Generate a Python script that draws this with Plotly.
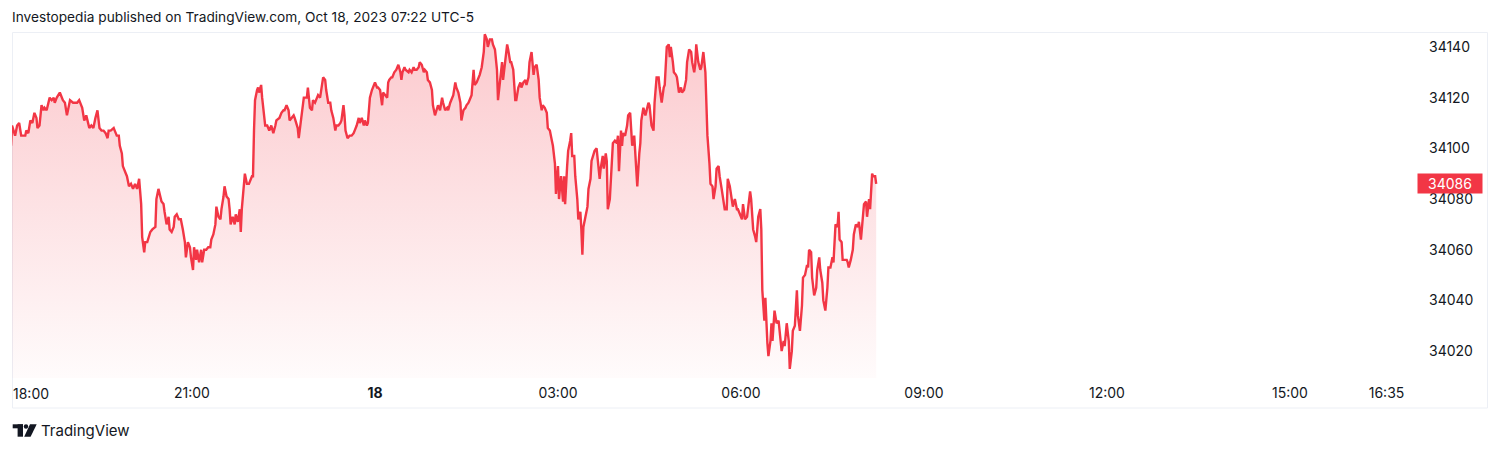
import pandas as pd
import plotly.graph_objects as go

# ---------------- data (minutes after 18:00 Oct 17, 2023 ; price) ----------------
evening_minutes = [2, 3, 6, 8, 10, 12, 16, 17, 19, 21,
                   23, 25, 27, 28, 30, 32, 34, 35, 37, 40,
                   42, 44, 45, 47, 50, 53, 55, 57, 60, 63,
                   67, 69, 72, 74, 76, 77, 79, 81, 83, 85,
                   87, 89, 91, 93, 95, 97, 98, 100, 103, 104,
                   106, 108, 109, 111, 112, 115, 116, 118, 120, 122,
                   124, 126, 128, 130, 131, 133, 134, 136, 139, 141,
                   144, 145, 147]
evening_prices = [34101, 34109, 34105, 34109, 34110, 34105, 34105, 34107, 34106, 34111,
                  34110, 34114, 34112, 34108, 34109, 34117, 34115, 34116, 34115, 34120,
                  34119, 34120, 34118, 34120, 34122, 34119, 34118, 34113, 34119, 34118,
                  34118, 34119, 34116, 34111, 34113, 34111, 34108, 34109, 34108, 34112,
                  34115, 34108, 34107, 34107, 34106, 34104, 34107, 34107, 34108, 34107,
                  34105, 34105, 34101, 34098, 34093, 34090, 34089, 34085, 34086, 34084,
                  34086, 34084, 34088, 34078, 34065, 34059, 34063, 34063, 34067, 34068,
                  34069, 34080, 34084]

night_minutes = [150, 152, 153, 155, 157, 158, 160, 162, 163, 165,
                 167, 169, 171, 173, 174, 176, 178, 179, 181, 182,
                 184, 185, 187, 189, 190, 192, 194, 196, 198, 199,
                 201, 203, 204, 206, 208, 209, 211, 212, 214, 216,
                 217, 218, 220, 222, 223, 225, 227, 228, 229, 231,
                 232, 234, 236, 239, 240, 241, 242, 244, 245, 246,
                 248, 249, 251, 252, 254, 256, 258, 260, 262, 263,
                 266, 268, 270, 271, 273, 275, 276, 278, 280, 281,
                 284, 285, 287, 288, 290]
night_prices = [34079, 34078, 34075, 34070, 34073, 34068, 34067, 34069, 34073, 34074,
                34072, 34072, 34068, 34063, 34057, 34063, 34061, 34057, 34052, 34061,
                34056, 34060, 34055, 34060, 34055, 34060, 34060, 34061, 34061, 34064,
                34066, 34070, 34077, 34073, 34072, 34076, 34081, 34085, 34081, 34080,
                34076, 34070, 34073, 34070, 34074, 34071, 34076, 34067, 34076, 34087,
                34090, 34086, 34086, 34089, 34089, 34107, 34119, 34123, 34124, 34122,
                34125, 34120, 34112, 34109, 34109, 34107, 34109, 34106, 34109, 34111,
                34112, 34114, 34115, 34115, 34117, 34115, 34111, 34112, 34113, 34112,
                34108, 34104, 34111, 34115, 34120]

midnight_minutes = [293, 294, 296, 298, 299, 301, 303, 304, 306, 308,
                    309, 311, 312, 314, 316, 317, 319, 321, 322, 324,
                    326, 327, 329, 330, 331, 333, 335, 337, 339, 340,
                    342, 344, 345, 347, 349, 350, 352, 353, 355, 357,
                    358, 360, 362, 363, 365, 367, 368, 370, 372, 373,
                    374, 376, 377, 379, 381, 383, 385, 386, 387, 389,
                    390, 393, 394, 396, 398, 399, 401, 403, 404, 406,
                    408, 409, 411, 412, 414, 416, 417, 419, 421, 422,
                    424, 426, 427, 429, 431, 432]
midnight_prices = [34120, 34124, 34116, 34115, 34119, 34118, 34120, 34121, 34120, 34127,
                   34128, 34127, 34123, 34118, 34118, 34115, 34112, 34107, 34109, 34109,
                   34110, 34111, 34117, 34113, 34107, 34104, 34105, 34105, 34106, 34107,
                   34109, 34112, 34110, 34112, 34109, 34111, 34109, 34110, 34120, 34123,
                   34124, 34126, 34124, 34124, 34123, 34117, 34122, 34121, 34120, 34126,
                   34127, 34128, 34128, 34130, 34131, 34133, 34130, 34127, 34130, 34132,
                   34131, 34130, 34131, 34130, 34132, 34131, 34131, 34132, 34134, 34133,
                   34130, 34131, 34130, 34127, 34126, 34123, 34117, 34113, 34116, 34117,
                   34115, 34120, 34118, 34115, 34116, 34115]

early_minutes = [434, 435, 437, 439, 440, 442, 444, 445, 447, 449,
                 450, 452, 453, 455, 457, 458, 460, 462, 463, 465,
                 467, 468, 470, 471, 473, 475, 476, 478, 480, 481,
                 483, 485, 486, 488, 490, 491, 493, 494, 496, 498,
                 499, 501, 503, 504, 506, 508, 509, 511, 512, 514,
                 516, 517, 519, 521, 522, 524, 525, 527, 529, 530,
                 532, 534, 535, 537, 538, 540, 541, 543, 545, 546,
                 547, 549, 550, 552, 553, 554, 556, 557, 559, 560,
                 562, 563, 564, 565, 567, 569, 570, 572, 573, 575]
early_prices = [34118, 34119, 34121, 34126, 34124, 34122, 34118, 34111, 34115, 34116,
                34117, 34118, 34119, 34121, 34131, 34125, 34126, 34128, 34129, 34132,
                34138, 34145, 34143, 34140, 34143, 34143, 34141, 34139, 34131, 34119,
                34127, 34134, 34127, 34135, 34141, 34139, 34134, 34134, 34131, 34119,
                34119, 34124, 34126, 34124, 34126, 34127, 34125, 34128, 34134, 34138,
                34129, 34132, 34133, 34127, 34120, 34115, 34117, 34116, 34114, 34108,
                34107, 34103, 34101, 34094, 34082, 34093, 34080, 34089, 34079, 34089,
                34078, 34093, 34099, 34103, 34106, 34097, 34097, 34089, 34080, 34072,
                34075, 34068, 34058, 34069, 34073, 34077, 34084, 34088, 34095, 34098]

dawn_minutes = [576, 578, 580, 581, 582, 584, 585, 587, 588, 589,
                591, 593, 594, 596, 598, 599, 600, 602, 603, 604,
                606, 608, 609, 611, 612, 613, 615, 616, 618, 620,
                621, 622, 624, 626, 627, 629, 630, 632, 634, 635,
                637, 639, 640, 642, 644, 645, 647, 649, 650, 651,
                653, 654, 656, 657, 659, 661, 662, 664, 666, 667,
                669, 671, 672, 674, 675, 676, 678, 680, 681, 683,
                685, 686, 687, 689, 690, 692, 693, 695, 696, 698,
                699, 701, 703, 704, 706, 707, 709, 711, 712, 714,
                716, 717, 719]
dawn_prices = [34099, 34100, 34093, 34088, 34092, 34097, 34092, 34098, 34095, 34076,
               34080, 34092, 34102, 34103, 34102, 34105, 34091, 34107, 34101, 34106,
               34105, 34109, 34113, 34114, 34109, 34101, 34105, 34097, 34085, 34098,
               34102, 34111, 34116, 34113, 34115, 34118, 34117, 34109, 34107, 34118,
               34128, 34128, 34124, 34118, 34124, 34125, 34140, 34141, 34136, 34140,
               34134, 34130, 34129, 34128, 34122, 34124, 34122, 34123, 34127, 34134,
               34139, 34138, 34134, 34130, 34133, 34141, 34134, 34131, 34132, 34138,
               34130, 34115, 34105, 34094, 34086, 34085, 34080, 34085, 34092, 34093,
               34089, 34084, 34078, 34076, 34076, 34088, 34085, 34078, 34077, 34080,
               34076, 34076, 34074]

morning_minutes = [721, 722, 724, 726, 727, 729, 730, 732, 734, 735,
                   737, 739, 740, 741, 743, 744, 746, 747, 749, 750,
                   751, 752, 753, 755, 757, 758, 760, 762, 763, 765,
                   767, 768, 770, 771, 773, 775, 776, 778, 780, 781,
                   783, 785, 786, 787, 789, 790, 792, 794, 795, 797,
                   798, 800, 801, 803, 805, 806, 808, 810, 811, 813,
                   815, 816, 817, 819, 820, 822, 824, 825, 826, 828,
                   830, 831, 833, 835, 836, 838, 840, 841, 843, 844,
                   846, 847, 849, 850, 852, 853]
morning_prices = [34072, 34078, 34072, 34073, 34077, 34083, 34080, 34068, 34065, 34063,
                  34073, 34076, 34068, 34044, 34032, 34041, 34023, 34018, 34024, 34031,
                  34024, 34031, 34036, 34031, 34032, 34028, 34020, 34024, 34022, 34031,
                  34024, 34013, 34020, 34028, 34030, 34044, 34034, 34028, 34038, 34049,
                  34050, 34054, 34053, 34060, 34059, 34049, 34042, 34045, 34052, 34057,
                  34052, 34047, 34040, 34036, 34045, 34053, 34053, 34057, 34055, 34070,
                  34069, 34075, 34064, 34063, 34056, 34056, 34056, 34055, 34053, 34056,
                  34060, 34066, 34070, 34069, 34071, 34064, 34073, 34078, 34079, 34073,
                  34080, 34076, 34090, 34089, 34089, 34086]

last_price = 34086
price_ticks = [34020, 34040, 34060, 34080, 34100, 34120, 34140]
time_tick_labels = ["21:00", "<b>18</b>", "03:00", "06:00", "09:00", "12:00", "15:00", "16:35"]
time_tick_values = ["2023-10-17 21:00", "2023-10-18 00:00", "2023-10-18 03:00", "2023-10-18 06:00",
                    "2023-10-18 09:00", "2023-10-18 12:00", "2023-10-18 15:00", "2023-10-18 16:35"]

# ---------------- build series ----------------
minutes, prices = [], []
for m, p in [(evening_minutes, evening_prices), (night_minutes, night_prices),
             (midnight_minutes, midnight_prices), (early_minutes, early_prices),
             (dawn_minutes, dawn_prices), (morning_minutes, morning_prices)]:
    n = min(len(m), len(p))
    minutes += m[:n]
    prices += p[:n]

session_start = pd.Timestamp("2023-10-17 18:00")
times = [session_start + pd.Timedelta(minutes=m) for m in minutes]

# ---------------- geometry helpers (page pixel coords; page body has 8px margin) ----------------
OFF = 8
W, H = 1500 - OFF, 450 - OFF
PL, PR, PT, PB = 12, 1415, 33, 378


def fx(xp):
    return (xp - PL) / (PR - PL)


def fy(yp):
    return (PB - yp) / (PB - PT)


FONT = "Inter, Roboto, Arial, sans-serif"
TXT = "#131722"
RED = "#F23645"

y_lo, y_hi = 34009.4, 34145.5

fig = go.Figure()
fig.add_trace(go.Scatter(
    x=times, y=prices, mode="lines",
    line=dict(color=RED, width=2.4),
    fill="tozeroy",
    fillgradient=dict(type="vertical",
                      colorscale=[[0, "rgba(242,54,69,0.02)"], [1, "rgba(242,54,69,0.26)"]],
                      start=y_lo, stop=34140),
    hoverinfo="skip", showlegend=False,
))

x_lo = session_start + pd.Timedelta(minutes=2.95)
x_hi = session_start + pd.Timedelta(minutes=1383)

fig.update_layout(
    width=W, height=H,
    margin=dict(l=PL - OFF, r=W - (PR - OFF), t=PT - OFF, b=H - (PB - OFF)),
    paper_bgcolor="white", plot_bgcolor="white",
    font=dict(family=FONT, size=14, color=TXT),
    showlegend=False,
    xaxis=dict(range=[x_lo, x_hi], tickvals=time_tick_values, ticktext=time_tick_labels,
               showgrid=False, zeroline=False, showline=False, ticks="",
               ticklabelstandoff=5, tickfont=dict(size=14, color=TXT)),
    yaxis=dict(range=[y_lo, y_hi], side="right", tickvals=price_ticks,
               ticktext=[str(v) for v in price_ticks],
               showgrid=False, zeroline=False, showline=False, ticks="",
               ticklabelstandoff=13, tickfont=dict(size=14, color=TXT)),
)

annotations = [
    dict(text="Investopedia published on TradingView.com, Oct 18, 2023 07:22 UTC-5",
         xref="paper", yref="paper", x=fx(10), y=fy(17), xanchor="left", yanchor="middle",
         showarrow=False, font=dict(size=13.7, color=TXT)),
    dict(text="18:00", xref="paper", yref="paper", x=fx(10.5), y=fy(393),
         xanchor="left", yanchor="middle", showarrow=False, font=dict(size=14, color=TXT)),
    dict(text=str(last_price), xref="paper", yref="y", x=fx(1417), y=last_price,
         xanchor="left", yanchor="middle", showarrow=False, bgcolor=RED,
         width=60, height=15, borderpad=2, align="center",
         font=dict(size=14, color="white")),
    dict(text="TradingView", xref="paper", yref="paper", x=fx(39), y=fy(430.5),
         xanchor="left", yanchor="middle", showarrow=False, font=dict(size=15, color=TXT)),
]
fig.update_layout(annotations=annotations)

shapes = [
    dict(type="rect", xref="paper", yref="paper", x0=fx(12.5), x1=fx(1487.5), y0=fy(408), y1=fy(32.5),
         line=dict(color="#eceff5", width=1), fillcolor="rgba(0,0,0,0)", layer="below"),
    # TradingView logo
    dict(type="rect", xref="paper", yref="paper", x0=fx(12.7), x1=fx(23), y0=fy(428.3), y1=fy(424.3),
         line=dict(width=0), fillcolor=TXT),
    dict(type="rect", xref="paper", yref="paper", x0=fx(17.6), x1=fx(23), y0=fy(436.7), y1=fy(424.3),
         line=dict(width=0), fillcolor=TXT),
    dict(type="circle", xref="paper", yref="paper", x0=fx(23.8), x1=fx(28.2), y0=fy(428.7), y1=fy(424.3),
         line=dict(width=0), fillcolor=TXT),
    dict(type="path", xref="paper", yref="paper",
         path=f"M {fx(30)},{fy(424.3)} L {fx(36.7)},{fy(424.3)} L {fx(30.6)},{fy(436.7)} L {fx(24.2)},{fy(436.7)} Z",
         line=dict(width=0), fillcolor=TXT),
]
fig.update_layout(shapes=shapes)

fig.write_html("out.html")
